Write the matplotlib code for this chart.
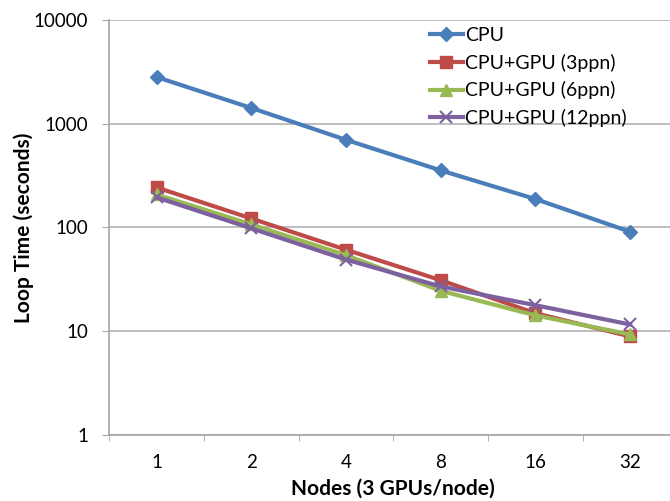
import numpy as np
import matplotlib.pyplot as plt
from matplotlib.ticker import FixedLocator, NullFormatter

plt.rcParams['font.family'] = ['Lato', 'DejaVu Sans']

nodes = ['1', '2', '4', '8', '16', '32']
cpu = [2820, 1420, 700, 355, 188, 91]
gpu_3ppn = [243, 122, 61, 31, 14.9, 8.9]
gpu_6ppn = [208, 107, 54, 24.5, 14.2, 9.3]
gpu_12ppn = [195, 98, 49, 27, 17.8, 11.6]

series = [
    ('CPU', cpu, '#4A7EBB', 'D', 7),
    ('CPU+GPU (3ppn)', gpu_3ppn, '#BE4B48', 's', 8),
    ('CPU+GPU (6ppn)', gpu_6ppn, '#98B954', '^', 8),
    ('CPU+GPU (12ppn)', gpu_12ppn, '#7D60A0', 'x', 9),
]

fig = plt.figure(figsize=(6.7, 5.01), dpi=100)
ax = fig.add_axes([0.163, 0.132, 0.848, 0.828])

x = np.arange(len(nodes))
for name, vals, color, marker, ms in series:
    ax.plot(x, vals, color=color, lw=3, marker=marker, markersize=ms,
            markeredgewidth=1.5 if marker == 'x' else 1, label=name)

ax.set_yscale('log')
ax.set_ylim(1, 10000)
ax.set_xlim(-0.5, len(nodes) - 0.5)
ax.set_yticks([1, 10, 100, 1000, 10000])
ax.set_yticklabels(['1', '10', '100', '1000', '10000'])
ax.yaxis.set_minor_locator(FixedLocator([]))
ax.set_xticks(x)
ax.set_xticklabels(nodes)
ax.xaxis.set_minor_locator(FixedLocator(np.arange(-0.5, len(nodes), 1)))
ax.xaxis.set_minor_formatter(NullFormatter())

ax.grid(axis='y', color='#b3b3b3', lw=1.2)
ax.set_axisbelow(True)
for s in ['top', 'right']:
    ax.spines[s].set_visible(False)
for s in ['left', 'bottom']:
    ax.spines[s].set_color('#a6a6a6')
    ax.spines[s].set_linewidth(1.2)

ax.tick_params(axis='y', which='major', direction='out', length=5, color='#a6a6a6',
               labelsize=13.5, pad=10)
ax.tick_params(axis='x', which='major', length=0, labelsize=13.5, pad=14)
ax.tick_params(axis='x', which='minor', direction='out', length=4, color='#a6a6a6')

ax.set_xlabel('Nodes (3 GPUs/node)', fontsize=15, fontweight='bold', labelpad=5)
ax.set_ylabel('Loop Time (seconds)', fontsize=15, fontweight='bold', labelpad=0)

ax.legend(loc='upper left', bbox_to_anchor=(0.63, 0.962), bbox_transform=fig.transFigure,
          frameon=False, fontsize=14, handlelength=1.7, handletextpad=0.1,
          labelspacing=0.5, borderaxespad=0)

fig.savefig('out.png', dpi=100)
